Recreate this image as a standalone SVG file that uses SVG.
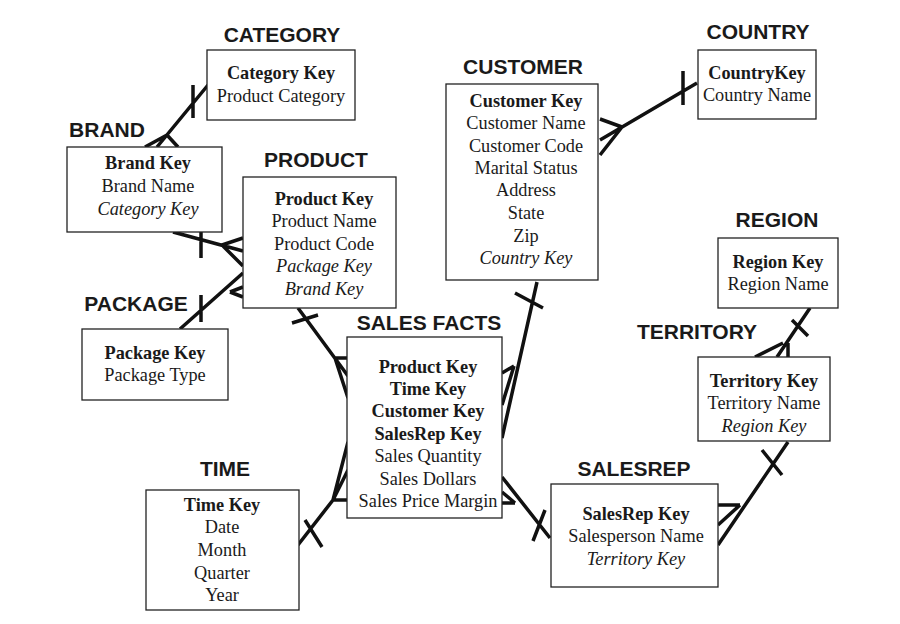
<svg xmlns="http://www.w3.org/2000/svg" width="900" height="624" viewBox="0 0 900 624">
<style>
.box{fill:#fff;stroke:#222;stroke-width:1.3}
.lbl{font-family:"Liberation Sans",Arial,sans-serif;font-weight:bold;font-size:21px;fill:#1a1a1a;text-anchor:middle}
.t{font-family:"Liberation Serif","Times New Roman",serif;font-size:18.3px;fill:#1a1a1a;text-anchor:middle}
.b{font-weight:bold}
.i{font-style:italic}
.c{fill:none;stroke:#111;stroke-width:3.5;stroke-linecap:butt}
</style>
<rect width="900" height="624" fill="#fff"/>
<g id="connectors" class="c">
<!-- Category - Brand -->
<path d="M208,85 L157,147 M167,135 L145,147 M167,135 L178,147 M193,85 L193,118"/>
<!-- Brand - Product -->
<path d="M173,232 L243,251 M222,245 L243,238 M222,245 L243,266 M201,232 L201,258"/>
<!-- Package - Product -->
<path d="M180,329 L243,273 M230,292 L243,287 M230,292 L243,297 M201,295 L201,322"/>
<!-- Product - Sales Facts -->
<path d="M298,308 L348,376 M335,358 L348,358 M335,358 L348,398 M292,323 L318,315"/>
<!-- Time - Sales Facts -->
<path d="M298,545 L333,500 L348,442 M333,500 L348,470 M333,500 L348,500 M305,520 L322,547"/>
<!-- Customer - Sales Facts -->
<path d="M537,282 L502,438 M514,366 L502,373 M514,366 L502,405 M515,293 L543,308"/>
<!-- Sales Facts - SalesRep -->
<path d="M502,477 L550,538 M515,503 L502,503 M515,503 L502,492 M533,541 L545,510"/>
<!-- Customer - Country -->
<path d="M697,83 L600,140 M622,127 L600,119 M622,127 L600,155 M683,71 L683,105"/>
<!-- Region - Territory -->
<path d="M810,308 L777,357 M783,343 L755,357 M788,343 L788,357 M792,320 L808,336"/>
<!-- Territory - SalesRep -->
<path d="M788,442 L718,545 M740,505 L718,505 M740,505 L718,525 M762,450 L782,475"/>
</g>
<g id="category">
<text class="lbl" x="282" y="42">CATEGORY</text>
<rect class="box" x="207" y="50" width="148" height="70"/>
<text class="t b" x="281" y="79">Category Key</text>
<text class="t" x="281" y="102">Product Category</text>
</g>
<g id="brand">
<text class="lbl" x="107" y="137">BRAND</text>
<rect class="box" x="67" y="147" width="155" height="85"/>
<text class="t b" x="148" y="169">Brand Key</text>
<text class="t" x="148" y="192">Brand Name</text>
<text class="t i" x="148" y="215">Category Key</text>
</g>
<g id="product">
<text class="lbl" x="316" y="167">PRODUCT</text>
<rect class="box" x="243" y="177" width="153" height="131"/>
<text class="t b" x="324" y="205">Product Key</text>
<text class="t" x="324" y="227">Product Name</text>
<text class="t" x="324" y="250">Product Code</text>
<text class="t i" x="324" y="272">Package Key</text>
<text class="t i" x="324" y="295">Brand Key</text>
</g>
<g id="package">
<text class="lbl" x="136" y="311">PACKAGE</text>
<rect class="box" x="82" y="329" width="146" height="71"/>
<text class="t b" x="155" y="359">Package Key</text>
<text class="t" x="155" y="381">Package Type</text>
</g>
<g id="customer">
<text class="lbl" x="523" y="74">CUSTOMER</text>
<rect class="box" x="446" y="84" width="152" height="196"/>
<text class="t b" x="526" y="107">Customer Key</text>
<text class="t" x="526" y="129">Customer Name</text>
<text class="t" x="526" y="152">Customer Code</text>
<text class="t" x="526" y="174">Marital Status</text>
<text class="t" x="526" y="196">Address</text>
<text class="t" x="526" y="219">State</text>
<text class="t" x="526" y="242">Zip</text>
<text class="t i" x="526" y="264">Country Key</text>
</g>
<g id="country">
<text class="lbl" x="758" y="39">COUNTRY</text>
<rect class="box" x="698" y="50" width="118" height="69"/>
<text class="t b" x="757" y="79">CountryKey</text>
<text class="t" x="757" y="101">Country Name</text>
</g>
<g id="region">
<text class="lbl" x="777" y="227">REGION</text>
<rect class="box" x="718" y="238" width="120" height="70"/>
<text class="t b" x="778" y="268">Region Key</text>
<text class="t" x="778" y="290">Region Name</text>
</g>
<g id="territory">
<text class="lbl" x="697" y="339">TERRITORY</text>
<rect class="box" x="698" y="357" width="132" height="84"/>
<text class="t b" x="764" y="387">Territory Key</text>
<text class="t" x="764" y="409">Territory Name</text>
<text class="t i" x="764" y="432">Region Key</text>
</g>
<g id="salesfacts">
<text class="lbl" x="429" y="330">SALES FACTS</text>
<rect class="box" x="347" y="337" width="155" height="181"/>
<text class="t b" x="428" y="373">Product Key</text>
<text class="t b" x="428" y="395">Time Key</text>
<text class="t b" x="428" y="417">Customer Key</text>
<text class="t b" x="428" y="440">SalesRep Key</text>
<text class="t" x="428" y="462">Sales Quantity</text>
<text class="t" x="428" y="485">Sales Dollars</text>
<text class="t" x="428" y="507">Sales Price Margin</text>
</g>
<g id="time">
<text class="lbl" x="225" y="476">TIME</text>
<rect class="box" x="146" y="490" width="153" height="120"/>
<text class="t b" x="222" y="511">Time Key</text>
<text class="t" x="222" y="533">Date</text>
<text class="t" x="222" y="556">Month</text>
<text class="t" x="222" y="579">Quarter</text>
<text class="t" x="222" y="601">Year</text>
</g>
<g id="salesrep">
<text class="lbl" x="634" y="476">SALESREP</text>
<rect class="box" x="551" y="484" width="167" height="103"/>
<text class="t b" x="636" y="520">SalesRep Key</text>
<text class="t" x="636" y="542">Salesperson Name</text>
<text class="t i" x="636" y="565">Territory Key</text>
</g>
</svg>
